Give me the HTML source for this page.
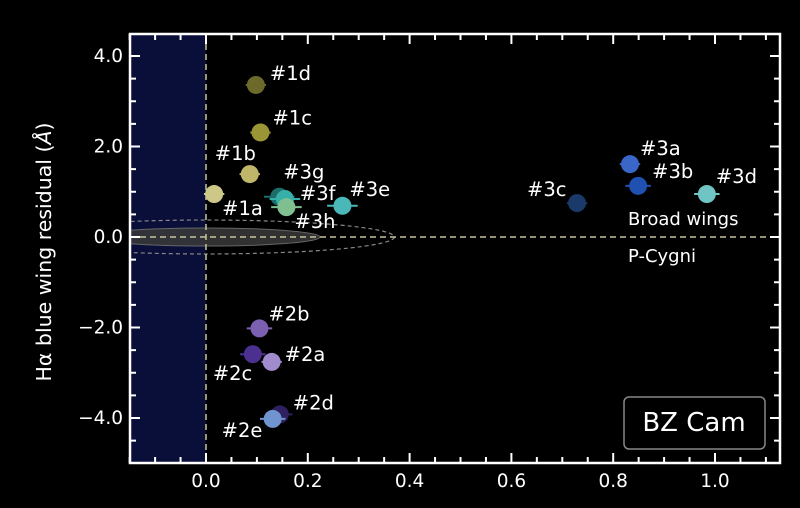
<!DOCTYPE html>
<html><head><meta charset="utf-8"><style>
html,body{margin:0;padding:0;background:#000;}
svg{display:block;font-family:"DejaVu Sans","Liberation Sans",sans-serif;}
</style></head><body>
<svg id="c" width="800" height="508" xmlns="http://www.w3.org/2000/svg"></svg>
<script>
const labels=["#1d","#1c","#1b","#1a","#3g","#3f","#3h","#3e","#2b","#2c","#2a","#2d","#2e","#3c","#3a","#3b","#3d"];
const xVals=[0.098,0.107,0.086,0.016,0.144,0.155,0.158,0.268,0.105,0.092,0.129,0.145,0.131,0.729,0.833,0.849,0.984];
const yVals=[3.36,2.31,1.39,0.95,0.89,0.84,0.66,0.69,-2.02,-2.59,-2.76,-3.92,-4.02,0.75,1.61,1.13,0.95];
const xErr=[0.02,0.02,0.02,0.02,0.03,0.03,0.03,0.03,0.025,0.025,0.02,0.025,0.025,0.02,0.02,0.025,0.025];
const colors=["#6b6a2a","#9a9636","#c0b66a","#cdc888","#1d6e6a","#36b0a8","#80c090","#4ab8b8","#7b5fb0","#4b3090","#a08ccc","#2f2060","#6f94d0","#1a3a6a","#3a66c8","#2050b0","#70c4c4"];
const lblDx=[14,12,-35,8,4,15,8,7,9,-40,13,13,-51,-50,10,14,9];
const lblDy=[-5,-8,-14,21,-18,1,21,-10,-8,26,-1,-5,18,-7,-9,-8,-11];
const xTicks=[0.0,0.2,0.4,0.6,0.8,1.0];
const yTicks=[4.0,2.0,0.0,-2.0,-4.0];
const L=130,R=780,T=34,B=463,x0=206,xs=509,y0=237,ys=45.25;
const X=v=>x0+v*xs, Y=v=>y0-v*ys;
const svg=document.getElementById('c');const NS="http://www.w3.org/2000/svg";
function el(t,a,p){const e=document.createElementNS(NS,t);for(const k in a)e.setAttribute(k,a[k]);(p||svg).appendChild(e);return e;}
let e;
const defs=el('defs',{});
const cp=el('clipPath',{id:'pc'},defs);
el('rect',{x:L,y:T,width:R-L,height:B-T},cp);
const pg=el('g',{'clip-path':'url(#pc)'});
e=el('rect',{x:L,y:T,width:X(0)-L,height:B-T,fill:"#0a0f3a"},pg);


e=el('ellipse',{cx:X(0),cy:Y(0),rx:0.224*xs,ry:0.2*ys,fill:"#3a3a3a","fill-opacity":0.85,stroke:"#666","stroke-width":1},pg);


e=el('ellipse',{cx:X(0),cy:Y(0),rx:0.37*xs,ry:0.375*ys,fill:"none",stroke:"#888","stroke-width":1.2,"stroke-dasharray":"4,3"},pg);


e=el('line',{x1:X(0),x2:X(0),y1:T,y2:B,stroke:"#c8c49a","stroke-width":1.5,"stroke-dasharray":"6,4"},pg);


e=el('line',{x1:L,x2:R,y1:Y(0),y2:Y(0),stroke:"#c8c49a","stroke-width":1.5,"stroke-dasharray":"6,4"},pg);


for(let i=0;i<labels.length;i++){
  const g=el('g',{});
  
  
  const cx=X(xVals[i]),cy=Y(yVals[i]);
  el('line',{x1:X(xVals[i]-xErr[i]),x2:X(xVals[i]+xErr[i]),y1:cy,y2:cy,stroke:colors[i],"stroke-width":2},g);
  el('circle',{cx:cx,cy:cy,r:9,fill:colors[i]},g);
  const t=el('text',{x:cx+lblDx[i],y:cy+lblDy[i],fill:"#fff","font-size":19.5},g);
  t.textContent=labels[i];
}
e=el('rect',{x:L,y:T,width:R-L,height:B-T,fill:"none",stroke:"#fff","stroke-width":2.5});


for(let v=-0.15;v<=1.126;v+=0.05){const vv=Math.round(v*100)/100;const maj=Math.abs(vv*10-Math.round(vv*10))<1e-6&&Math.round(vv*10)%2===0;const len=maj?10:6;
  el('line',{x1:X(vv),x2:X(vv),y1:B,y2:B-len,stroke:"#fff","stroke-width":2});
  el('line',{x1:X(vv),x2:X(vv),y1:T,y2:T+len,stroke:"#fff","stroke-width":2});}
for(let v=-4.5;v<=4.26;v+=0.5){const maj=Math.abs(v%2)<1e-6;const len=maj?10:6;
  el('line',{x1:L,x2:L+len,y1:Y(v),y2:Y(v),stroke:"#fff","stroke-width":2});
  el('line',{x1:R,x2:R-len,y1:Y(v),y2:Y(v),stroke:"#fff","stroke-width":2});}
xTicks.forEach(v=>{const t=el('text',{x:X(v),y:487,fill:"#fff","font-size":18.5,"text-anchor":"middle"});t.textContent=v.toFixed(1);
  
  });
yTicks.forEach(v=>{const t=el('text',{x:123,y:Y(v)+6,fill:"#fff","font-size":18.5,"text-anchor":"end"});t.textContent=(v<0?"\u2212":"")+Math.abs(v).toFixed(1);
  
  });
</script>
<svg style="position:absolute;left:0;top:0" width="800" height="508" xmlns="http://www.w3.org/2000/svg" font-family="DejaVu Sans, Liberation Sans, sans-serif">
<text transform="translate(51,252) rotate(-90)" fill="#fff" font-size="20.5" text-anchor="middle">Hα blue wing residual (<tspan font-style="italic">Å</tspan>)</text>
<text x="628" y="225" fill="#fff" font-size="18">Broad wings</text>
<text x="628" y="262" fill="#fff" font-size="18">P-Cygni</text>
<g>
<rect x="624" y="397" width="141" height="52" rx="5" fill="#000" stroke="#888" stroke-width="1.5"/>
<text x="694" y="431" fill="#fff" font-size="26" text-anchor="middle">BZ Cam</text>
</g>
</svg>
</body></html>
